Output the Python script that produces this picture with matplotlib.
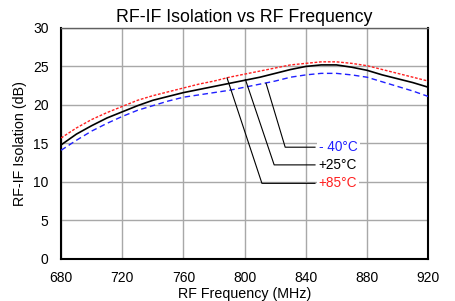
import matplotlib
matplotlib.use("Agg")
import matplotlib.pyplot as plt
import numpy as np

plt.rcParams["font.family"] = ["Liberation Sans", "DejaVu Sans"]

freq = [680, 690, 700, 710, 720, 730, 740, 750, 760, 770, 780, 790, 800,
        810, 820, 830, 840, 850, 860, 870, 880, 890, 900, 910, 920]
iso_m40 = [14.1, 15.4, 16.6, 17.6, 18.5, 19.3, 19.9, 20.5, 21.0, 21.3, 21.6, 21.9, 22.3,
           22.7, 23.1, 23.6, 23.9, 24.1, 24.1, 23.9, 23.6, 23.0, 22.4, 21.8, 21.1]
iso_p25 = [14.8, 16.2, 17.3, 18.3, 19.1, 19.9, 20.6, 21.1, 21.6, 22.0, 22.4, 22.8, 23.2,
           23.6, 24.1, 24.6, 25.0, 25.2, 25.2, 24.9, 24.5, 23.9, 23.4, 22.9, 22.3]
iso_p85 = [15.7, 17.0, 18.1, 19.0, 19.8, 20.6, 21.2, 21.7, 22.2, 22.7, 23.1, 23.6, 24.0,
           24.4, 24.8, 25.2, 25.4, 25.6, 25.6, 25.4, 25.1, 24.6, 24.1, 23.6, 23.1]

labels = ["- 40°C", "+25°C", "+85°C"]
label_colors = ["#2020ff", "black", "#ff2020"]
# leader lines: point on curve, elbow, end of horizontal run
leader_start = [(814, 22.8), (800.5, 23.3), (788.5, 23.5)]
leader_elbow = [(826.5, 14.5), (819.3, 12.2), (811.3, 9.8)]
leader_end_x = 846

fig = plt.figure(figsize=(4.56, 3.01), dpi=100)
ax = fig.add_axes([0.134, 0.1405, 0.805, 0.7665])

ax.plot(freq, iso_p85, color="#ff2020", linestyle=(0, (2, 1.2)), linewidth=1.0, zorder=3)
ax.plot(freq, iso_p25, color="black", linewidth=1.2, zorder=4)
ax.plot(freq, iso_m40, color="#2020ff", linestyle=(0, (4, 2.5)), linewidth=1.0, zorder=3)

for s, e, lab, c in zip(leader_start, leader_elbow, labels, label_colors):
    ax.plot([s[0], e[0], leader_end_x], [s[1], e[1], e[1]], color="black", linewidth=0.8, zorder=5)
    ax.text(leader_end_x + 2.5, e[1], lab, color=c, fontsize=9.8, ha="left", va="center", zorder=6,
            bbox=dict(facecolor="white", edgecolor="none", pad=1.5))

ax.set_xlim(680, 920)
ax.set_ylim(0, 30)
ax.set_xticks(np.arange(680, 921, 40))
ax.set_yticks(np.arange(0, 31, 5))
ax.grid(True, color="#a8a8a8", linewidth=1.0)
ax.set_axisbelow(True)
ax.tick_params(length=0, labelsize=10)
ax.tick_params(axis="x", pad=9)
ax.tick_params(axis="y", pad=9)

for side in ["left", "bottom", "right"]:
    ax.spines[side].set_linewidth(1.5)
    ax.spines[side].set_color("black")
ax.spines["top"].set_linewidth(1.0)
ax.spines["top"].set_color("#606060")

ax.set_title("RF-IF Isolation vs RF Frequency", fontsize=12.8, pad=4)
ax.set_xlabel("RF Frequency (MHz)", fontsize=10.3, labelpad=1)
ax.set_ylabel("RF-IF Isolation (dB)", fontsize=10.3, labelpad=4)

fig.savefig("out.png", dpi=100)
